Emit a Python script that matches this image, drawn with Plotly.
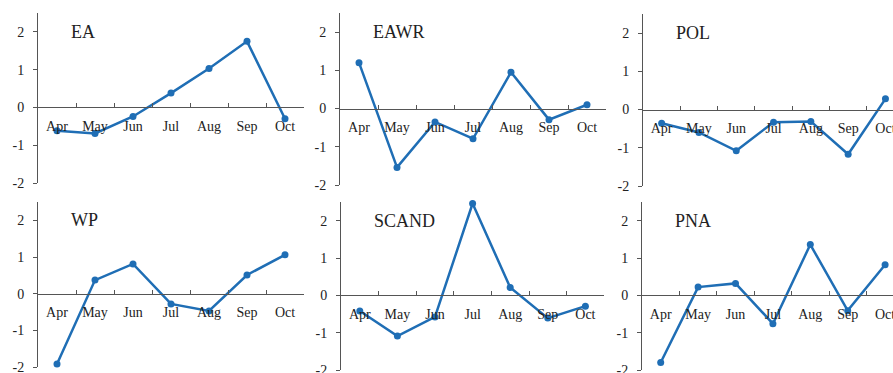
import plotly.graph_objects as go

months = ["Apr", "May", "Jun", "Jul", "Aug", "Sep", "Oct"]
names = ["EA", "EAWR", "POL", "WP", "SCAND", "PNA"]
ea = [-0.62, -0.69, -0.24, 0.38, 1.03, 1.75, -0.30]
eawr = [1.20, -1.54, -0.35, -0.79, 0.95, -0.29, 0.10]
pol = [-0.36, -0.60, -1.08, -0.33, -0.31, -1.17, 0.28]
wp = [-1.92, 0.37, 0.81, -0.28, -0.47, 0.51, 1.06]
scand = [-0.42, -1.09, -0.58, 2.46, 0.21, -0.61, -0.29]
pna = [-1.80, 0.22, 0.32, -0.76, 1.36, -0.41, 0.82]
series = [ea, eawr, pol, wp, scand, pna]
yticks = [-2, -1, 0, 1, 2]

W, H = 893, 373
# layout geometry in pixels: left edge, category width, top (y=2.5), bottom (y=-2)
geom = [
    (38, 38.0, 13, 183),
    (340, 38.0, 13, 185),
    (643, 37.3, 14, 186),
    (38, 38.0, 202, 367),
    (341, 37.6, 202, 370),
    (642, 37.4, 202, 370),
]
YMIN, YMAX = -2, 2.5
LINE = "#1f6eb5"
AXC = "#555555"
FONT = "Liberation Serif"

fig = go.Figure()
layout = dict(
    width=W, height=H, margin=dict(l=0, r=0, t=0, b=0, autoexpand=False),
    paper_bgcolor="white", plot_bgcolor="white", showlegend=False,
)
annotations = []
for i, (name, vals, (left, sp, top, bot)) in enumerate(zip(names, series, geom), start=1):
    sfx = "" if i == 1 else str(i)
    right = min(left + 7 * sp, W)
    xr = [-0.5, -0.5 + (right - left) / sp]
    y0, y1 = (H - bot) / H, (H - top) / H
    zero_pos = y0 + (0 - YMIN) / (YMAX - YMIN) * (y1 - y0)
    fig.add_trace(go.Scatter(
        x=months, y=vals, mode="lines+markers",
        line=dict(color=LINE, width=2.5),
        marker=dict(color=LINE, size=7),
        xaxis="x" + sfx, yaxis="y" + sfx, cliponaxis=False,
    ))
    layout["xaxis" + sfx] = dict(
        domain=[left / W, right / W], range=xr, type="category",
        anchor="free", position=zero_pos, automargin=False,
        showline=True, linecolor=AXC, linewidth=1,
        ticks="inside", ticklen=4, tickcolor=AXC, tickson="boundaries",
        showgrid=False, zeroline=False, ticklabelstandoff=6,
        ticklabeloverflow="allow",
        tickfont=dict(family=FONT, size=14, color="#222222"),
    )
    layout["yaxis" + sfx] = dict(
        domain=[y0, y1], range=[YMIN, YMAX], anchor="x" + sfx, automargin=False,
        tickvals=yticks, ticktext=[str(v) for v in yticks],
        showline=True, linecolor=AXC, linewidth=1,
        ticks="outside", ticklen=4, tickcolor=AXC,
        showgrid=False, zeroline=False, ticklabelstandoff=6,
        ticklabeloverflow="allow",
        tickfont=dict(family=FONT, size=14, color="#222222"),
    )
    annotations.append(dict(
        text=name, xref=f"x{sfx} domain", yref="y" + sfx, x=0, y=2,
        xshift=31, xanchor="left", yanchor="middle", showarrow=False,
        font=dict(family=FONT, size=18, color="#222222"),
    ))
layout["annotations"] = annotations
fig.update_layout(**layout)
fig.write_html("out.html")
